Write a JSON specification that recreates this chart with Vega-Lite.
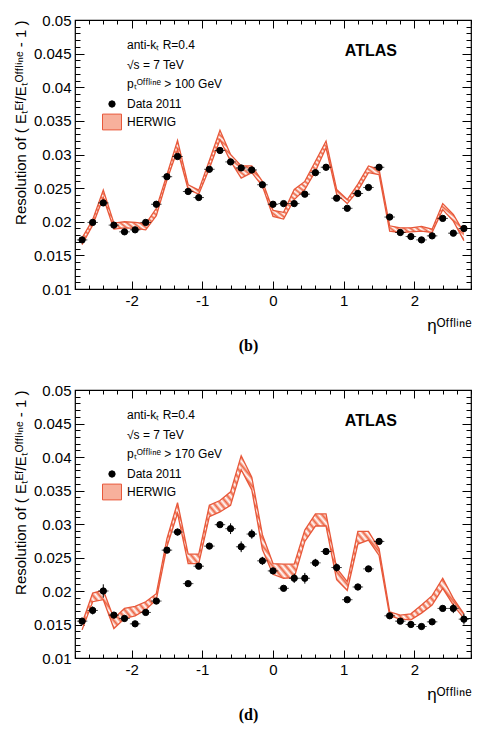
{
  "$schema": "https://vega.github.io/schema/vega-lite/v6.json",
  "padding": {"left": 12, "top": 12, "right": 8, "bottom": 5},
  "autosize": {"type": "pad"},
  "spacing": 28,
  "datasets": {
    "p100": [
      {"eta": -2.7, "res": 0.0173, "err": 0.0003, "lo": 0.0166, "hi": 0.0176},
      {"eta": -2.55, "res": 0.0199, "err": 0.0003, "lo": 0.0195, "hi": 0.0203},
      {"eta": -2.4, "res": 0.0228, "err": 0.0003, "lo": 0.0236, "hi": 0.0247},
      {"eta": -2.25, "res": 0.0195, "err": 0.0003, "lo": 0.0189, "hi": 0.0198},
      {"eta": -2.1, "res": 0.0185, "err": 0.0003, "lo": 0.0191, "hi": 0.0200},
      {"eta": -1.95, "res": 0.0188, "err": 0.0003, "lo": 0.0190, "hi": 0.0199},
      {"eta": -1.8, "res": 0.0199, "err": 0.0003, "lo": 0.0188, "hi": 0.0197},
      {"eta": -1.65, "res": 0.0226, "err": 0.0003, "lo": 0.0209, "hi": 0.0220},
      {"eta": -1.5, "res": 0.0267, "err": 0.0003, "lo": 0.0262, "hi": 0.0270},
      {"eta": -1.35, "res": 0.0297, "err": 0.0003, "lo": 0.0307, "hi": 0.0321},
      {"eta": -1.2, "res": 0.0245, "err": 0.0003, "lo": 0.0248, "hi": 0.0255},
      {"eta": -1.05, "res": 0.0236, "err": 0.0003, "lo": 0.0241, "hi": 0.0247},
      {"eta": -0.9, "res": 0.0278, "err": 0.0003, "lo": 0.0279, "hi": 0.0291},
      {"eta": -0.75, "res": 0.0306, "err": 0.0003, "lo": 0.0322, "hi": 0.0336},
      {"eta": -0.6, "res": 0.0289, "err": 0.0003, "lo": 0.0290, "hi": 0.0300},
      {"eta": -0.45, "res": 0.0280, "err": 0.0003, "lo": 0.0265, "hi": 0.0283},
      {"eta": -0.3, "res": 0.0277, "err": 0.0003, "lo": 0.0273, "hi": 0.0283},
      {"eta": -0.15, "res": 0.0255, "err": 0.0003, "lo": 0.0253, "hi": 0.0260},
      {"eta": 0, "res": 0.0226, "err": 0.0003, "lo": 0.0208, "hi": 0.0217},
      {"eta": 0.15, "res": 0.0227, "err": 0.0003, "lo": 0.0204, "hi": 0.0214},
      {"eta": 0.3, "res": 0.0227, "err": 0.0003, "lo": 0.0233, "hi": 0.0248},
      {"eta": 0.45, "res": 0.0241, "err": 0.0003, "lo": 0.0248, "hi": 0.0260},
      {"eta": 0.6, "res": 0.0273, "err": 0.0003, "lo": 0.0275, "hi": 0.0290},
      {"eta": 0.75, "res": 0.0281, "err": 0.0003, "lo": 0.0310, "hi": 0.0320},
      {"eta": 0.9, "res": 0.0235, "err": 0.0003, "lo": 0.0241, "hi": 0.0248},
      {"eta": 1.05, "res": 0.0220, "err": 0.0003, "lo": 0.0227, "hi": 0.0233},
      {"eta": 1.2, "res": 0.0242, "err": 0.0003, "lo": 0.0246, "hi": 0.0256},
      {"eta": 1.35, "res": 0.0251, "err": 0.0003, "lo": 0.0273, "hi": 0.0283},
      {"eta": 1.5, "res": 0.0281, "err": 0.0003, "lo": 0.0270, "hi": 0.0278},
      {"eta": 1.65, "res": 0.0207, "err": 0.0003, "lo": 0.0186, "hi": 0.0194},
      {"eta": 1.8, "res": 0.0184, "err": 0.0003, "lo": 0.0184, "hi": 0.0191},
      {"eta": 1.95, "res": 0.0178, "err": 0.0003, "lo": 0.0185, "hi": 0.0191},
      {"eta": 2.1, "res": 0.0173, "err": 0.0003, "lo": 0.0186, "hi": 0.0193},
      {"eta": 2.25, "res": 0.0179, "err": 0.0003, "lo": 0.0184, "hi": 0.0189},
      {"eta": 2.4, "res": 0.0205, "err": 0.0003, "lo": 0.0218, "hi": 0.0227},
      {"eta": 2.55, "res": 0.0183, "err": 0.0003, "lo": 0.0201, "hi": 0.0211},
      {"eta": 2.7, "res": 0.0190, "err": 0.0003, "lo": 0.0172, "hi": 0.0184}
    ],
    "p170": [
      {"eta": -2.7, "res": 0.0155, "err": 0.0005, "lo": 0.0142, "hi": 0.0152},
      {"eta": -2.55, "res": 0.0171, "err": 0.0006, "lo": 0.0184, "hi": 0.0197},
      {"eta": -2.4, "res": 0.0200, "err": 0.0010, "lo": 0.0187, "hi": 0.0201},
      {"eta": -2.25, "res": 0.0164, "err": 0.0004, "lo": 0.0144, "hi": 0.0159},
      {"eta": -2.1, "res": 0.0159, "err": 0.0004, "lo": 0.0159, "hi": 0.0174},
      {"eta": -1.95, "res": 0.0151, "err": 0.0003, "lo": 0.0163, "hi": 0.0177},
      {"eta": -1.8, "res": 0.0168, "err": 0.0003, "lo": 0.0172, "hi": 0.0184},
      {"eta": -1.65, "res": 0.0185, "err": 0.0003, "lo": 0.0187, "hi": 0.0196},
      {"eta": -1.5, "res": 0.0261, "err": 0.0004, "lo": 0.0266, "hi": 0.0278},
      {"eta": -1.35, "res": 0.0288, "err": 0.0005, "lo": 0.0316, "hi": 0.0332},
      {"eta": -1.2, "res": 0.0211, "err": 0.0003, "lo": 0.0241, "hi": 0.0255},
      {"eta": -1.05, "res": 0.0237, "err": 0.0004, "lo": 0.0241, "hi": 0.0255},
      {"eta": -0.9, "res": 0.0267, "err": 0.0004, "lo": 0.0311, "hi": 0.0328},
      {"eta": -0.75, "res": 0.0299, "err": 0.0004, "lo": 0.0318, "hi": 0.0335},
      {"eta": -0.6, "res": 0.0293, "err": 0.0008, "lo": 0.0328, "hi": 0.0348},
      {"eta": -0.45, "res": 0.0266, "err": 0.0008, "lo": 0.0381, "hi": 0.0402},
      {"eta": -0.3, "res": 0.0285, "err": 0.0007, "lo": 0.0351, "hi": 0.0370},
      {"eta": -0.15, "res": 0.0245, "err": 0.0006, "lo": 0.0262, "hi": 0.0284},
      {"eta": 0, "res": 0.0230, "err": 0.0004, "lo": 0.0225, "hi": 0.0241},
      {"eta": 0.15, "res": 0.0204, "err": 0.0004, "lo": 0.0219, "hi": 0.0240},
      {"eta": 0.3, "res": 0.0219, "err": 0.0007, "lo": 0.0220, "hi": 0.0240},
      {"eta": 0.45, "res": 0.0219, "err": 0.0008, "lo": 0.0274, "hi": 0.0291},
      {"eta": 0.6, "res": 0.0242, "err": 0.0006, "lo": 0.0297, "hi": 0.0315},
      {"eta": 0.75, "res": 0.0259, "err": 0.0005, "lo": 0.0297, "hi": 0.0315},
      {"eta": 0.9, "res": 0.0235, "err": 0.0006, "lo": 0.0217, "hi": 0.0234},
      {"eta": 1.05, "res": 0.0187, "err": 0.0003, "lo": 0.0201, "hi": 0.0214},
      {"eta": 1.2, "res": 0.0206, "err": 0.0004, "lo": 0.0270, "hi": 0.0289},
      {"eta": 1.35, "res": 0.0233, "err": 0.0004, "lo": 0.0276, "hi": 0.0289},
      {"eta": 1.5, "res": 0.0274, "err": 0.0003, "lo": 0.0253, "hi": 0.0263},
      {"eta": 1.65, "res": 0.0163, "err": 0.0003, "lo": 0.0163, "hi": 0.0169},
      {"eta": 1.8, "res": 0.0155, "err": 0.0003, "lo": 0.0158, "hi": 0.0164},
      {"eta": 1.95, "res": 0.0150, "err": 0.0003, "lo": 0.0157, "hi": 0.0166},
      {"eta": 2.1, "res": 0.0147, "err": 0.0003, "lo": 0.0167, "hi": 0.0179},
      {"eta": 2.25, "res": 0.0154, "err": 0.0003, "lo": 0.0179, "hi": 0.0193},
      {"eta": 2.4, "res": 0.0174, "err": 0.0004, "lo": 0.0204, "hi": 0.0219},
      {"eta": 2.55, "res": 0.0174, "err": 0.0007, "lo": 0.0179, "hi": 0.0189},
      {"eta": 2.7, "res": 0.0158, "err": 0.0008, "lo": 0.0159, "hi": 0.0166}
    ]
  },
  "resolve": {"scale": {"shape": "independent", "fill": "independent", "stroke": "independent"}, "legend": {"shape": "independent", "fill": "independent", "stroke": "independent"}},
  "vconcat": [
    {
      "title": {"text": "(b)", "orient": "bottom", "anchor": "middle", "font": "Liberation Serif", "fontSize": 16, "fontWeight": "bold", "offset": 4, "dx": 6, "color": "black"},
      "resolve": {"scale": {"shape": "independent", "fill": "independent", "stroke": "independent"}, "legend": {"shape": "independent", "fill": "independent", "stroke": "independent"}},
      "vconcat": [
        {
          "width": 396,
          "height": 269,
          "data": {"name": "p100"},
          "title": {"text": "ATLAS", "anchor": "end", "frame": "group", "orient": "top", "offset": -46, "dx": -74, "fontSize": 16, "fontWeight": "bold", "font": "Liberation Sans", "color": "black"},
          "resolve": {"axis": {"x": "independent", "y": "independent"}},
          "layer": [
            {
              "mark": {"type": "area"},
              "encoding": {
                "x": {"field": "eta", "type": "quantitative", "scale": {"domain": [-2.8, 2.8], "nice": false, "zero": false},
                  "axis": {"orient": "bottom", "values": [-2, -1, 0, 1, 2], "labelExpr": "'' + datum.value", "tickSize": -8, "labelPadding": 12, "title": "ηᴼᶠᶠˡⁱⁿᵉ", "titleAnchor": "end", "titleFontSize": 17, "titlePadding": 9}},
                "y": {"field": "lo", "type": "quantitative", "scale": {"domain": [0.01, 0.05], "nice": false, "zero": false},
                  "axis": {"orient": "left", "values": [0.01, 0.015, 0.02, 0.025, 0.03, 0.035, 0.04, 0.045, 0.05], "format": ".3~f", "tickSize": -9, "labelPadding": 13, "title": "Resolution of ( Eₜᴱᶠ/Eₜᴼᶠᶠˡⁱⁿᵉ - 1 )", "titleAnchor": "end", "titleFontSize": 15, "titlePadding": 5}},
                "y2": {"field": "hi"}
              }
            },
            {
              "mark": {"type": "line", "color": "#e8583a", "strokeWidth": 1.3},
              "encoding": {
                "x": {"field": "eta", "type": "quantitative", "axis": {"orient": "bottom", "values": [-2.8, -2.6, -2.4, -2.2, -2, -1.8, -1.6, -1.4, -1.2, -1, -0.8, -0.6, -0.4, -0.2, 0, 0.2, 0.4, 0.6, 0.8, 1, 1.2, 1.4, 1.6, 1.8, 2, 2.2, 2.4, 2.6, 2.8], "tickSize": -4, "labels": false, "title": null}},
                "y": {"field": "hi", "type": "quantitative", "axis": {"orient": "left", "values": [0.01, 0.011, 0.012, 0.013, 0.014, 0.015, 0.016, 0.017, 0.018, 0.019, 0.02, 0.021, 0.022, 0.023, 0.024, 0.025, 0.026, 0.027, 0.028, 0.029, 0.03, 0.031, 0.032, 0.033, 0.034, 0.035, 0.036, 0.037, 0.038, 0.039, 0.04, 0.041, 0.042, 0.043, 0.044, 0.045, 0.046, 0.047, 0.048, 0.049, 0.05], "tickSize": -5, "labels": false, "title": null}}
              }
            },
            {
              "mark": {"type": "line", "color": "#e8583a", "strokeWidth": 1.3},
              "encoding": {
                "x": {"field": "eta", "type": "quantitative", "axis": {"orient": "top", "values": [-2, -1, 0, 1, 2], "tickSize": -8, "labels": false, "title": null}},
                "y": {"field": "lo", "type": "quantitative", "axis": {"orient": "right", "values": [0.01, 0.015, 0.02, 0.025, 0.03, 0.035, 0.04, 0.045, 0.05], "tickSize": -9, "labels": false, "title": null}}
              }
            },
            {
              "mark": {"type": "tick", "orient": "horizontal", "size": 10.5, "thickness": 1, "color": "black"},
              "encoding": {
                "x": {"field": "eta", "type": "quantitative", "axis": {"orient": "top", "values": [-2.8, -2.6, -2.4, -2.2, -2, -1.8, -1.6, -1.4, -1.2, -1, -0.8, -0.6, -0.4, -0.2, 0, 0.2, 0.4, 0.6, 0.8, 1, 1.2, 1.4, 1.6, 1.8, 2, 2.2, 2.4, 2.6, 2.8], "tickSize": -4, "labels": false, "title": null}},
                "y": {"field": "res", "type": "quantitative", "axis": {"orient": "right", "values": [0.01, 0.011, 0.012, 0.013, 0.014, 0.015, 0.016, 0.017, 0.018, 0.019, 0.02, 0.021, 0.022, 0.023, 0.024, 0.025, 0.026, 0.027, 0.028, 0.029, 0.03, 0.031, 0.032, 0.033, 0.034, 0.035, 0.036, 0.037, 0.038, 0.039, 0.04, 0.041, 0.042, 0.043, 0.044, 0.045, 0.046, 0.047, 0.048, 0.049, 0.05], "tickSize": -5, "labels": false, "title": null}}
              }
            },
            {
              "mark": {"type": "errorbar", "ticks": false, "color": "black"},
              "encoding": {
                "x": {"field": "eta", "type": "quantitative", "axis": null},
                "y": {"field": "res", "type": "quantitative", "axis": null},
                "yError": {"field": "err"}
              }
            },
            {
              "mark": {"type": "point", "filled": true, "size": 40, "strokeWidth": 1, "opacity": 1},
              "encoding": {
                "x": {"field": "eta", "type": "quantitative", "axis": null},
                "y": {"field": "res", "type": "quantitative", "axis": null},
                "fill": {"datum": "Data 2011", "type": "nominal",
                  "scale": {"domain": ["Data 2011", "HERWIG"], "range": ["black", "#f7b09c"]}},
                "stroke": {"datum": "Data 2011", "type": "nominal",
                  "scale": {"domain": ["Data 2011", "HERWIG"], "range": ["black", "#e8583a"]}},
                "shape": {"datum": "Data 2011", "type": "nominal",
                  "scale": {"domain": ["Data 2011", "HERWIG"], "range": ["circle", "M-3,-2.5H3V2.5H-3Z"]},
                  "legend": {"orient": "none", "legendX": 52, "legendY": 20, "padding": 0,
                    "title": ["anti-k\u209c  R=0.4", "\u221as = 7 TeV", "p\u209c\u1d3c\u1da0\u1da0\u02e1\u2071\u207f\u1d49 > 100 GeV"],
                    "titleFontSize": 12, "titleFontWeight": "normal", "titleLineHeight": 19.5, "titlePadding": 7, "titleFont": "Liberation Sans", "titleColor": "black",
                    "labelFontSize": 12, "labelFont": "Liberation Sans", "labelColor": "black", "labelOffset": 9, "symbolOffset": -21, "rowPadding": 2, "symbolSize": 40, "symbolStrokeWidth": 1}
                }
              }
            }
          ]
        }
      ]
    },
    {
      "title": {"text": "(d)", "orient": "bottom", "anchor": "middle", "font": "Liberation Serif", "fontSize": 16, "fontWeight": "bold", "offset": 4, "dx": 6, "color": "black"},
      "resolve": {"scale": {"shape": "independent", "fill": "independent", "stroke": "independent"}, "legend": {"shape": "independent", "fill": "independent", "stroke": "independent"}},
      "vconcat": [
        {
          "width": 396,
          "height": 268,
          "data": {"name": "p170"},
          "title": {"text": "ATLAS", "anchor": "end", "frame": "group", "orient": "top", "offset": -46, "dx": -74, "fontSize": 16, "fontWeight": "bold", "font": "Liberation Sans", "color": "black"},
          "resolve": {"axis": {"x": "independent", "y": "independent"}},
          "layer": [
            {
              "mark": {"type": "area"},
              "encoding": {
                "x": {"field": "eta", "type": "quantitative", "scale": {"domain": [-2.8, 2.8], "nice": false, "zero": false},
                  "axis": {"orient": "bottom", "values": [-2, -1, 0, 1, 2], "labelExpr": "'' + datum.value", "tickSize": -8, "labelPadding": 12, "title": "ηᴼᶠᶠˡⁱⁿᵉ", "titleAnchor": "end", "titleFontSize": 17, "titlePadding": 9}},
                "y": {"field": "lo", "type": "quantitative", "scale": {"domain": [0.01, 0.05], "nice": false, "zero": false},
                  "axis": {"orient": "left", "values": [0.01, 0.015, 0.02, 0.025, 0.03, 0.035, 0.04, 0.045, 0.05], "format": ".3~f", "tickSize": -9, "labelPadding": 13, "title": "Resolution of ( Eₜᴱᶠ/Eₜᴼᶠᶠˡⁱⁿᵉ - 1 )", "titleAnchor": "end", "titleFontSize": 15, "titlePadding": 5}},
                "y2": {"field": "hi"}
              }
            },
            {
              "mark": {"type": "line", "color": "#e8583a", "strokeWidth": 1.3},
              "encoding": {
                "x": {"field": "eta", "type": "quantitative", "axis": {"orient": "bottom", "values": [-2.8, -2.6, -2.4, -2.2, -2, -1.8, -1.6, -1.4, -1.2, -1, -0.8, -0.6, -0.4, -0.2, 0, 0.2, 0.4, 0.6, 0.8, 1, 1.2, 1.4, 1.6, 1.8, 2, 2.2, 2.4, 2.6, 2.8], "tickSize": -4, "labels": false, "title": null}},
                "y": {"field": "hi", "type": "quantitative", "axis": {"orient": "left", "values": [0.01, 0.011, 0.012, 0.013, 0.014, 0.015, 0.016, 0.017, 0.018, 0.019, 0.02, 0.021, 0.022, 0.023, 0.024, 0.025, 0.026, 0.027, 0.028, 0.029, 0.03, 0.031, 0.032, 0.033, 0.034, 0.035, 0.036, 0.037, 0.038, 0.039, 0.04, 0.041, 0.042, 0.043, 0.044, 0.045, 0.046, 0.047, 0.048, 0.049, 0.05], "tickSize": -5, "labels": false, "title": null}}
              }
            },
            {
              "mark": {"type": "line", "color": "#e8583a", "strokeWidth": 1.3},
              "encoding": {
                "x": {"field": "eta", "type": "quantitative", "axis": {"orient": "top", "values": [-2, -1, 0, 1, 2], "tickSize": -8, "labels": false, "title": null}},
                "y": {"field": "lo", "type": "quantitative", "axis": {"orient": "right", "values": [0.01, 0.015, 0.02, 0.025, 0.03, 0.035, 0.04, 0.045, 0.05], "tickSize": -9, "labels": false, "title": null}}
              }
            },
            {
              "mark": {"type": "tick", "orient": "horizontal", "size": 10.5, "thickness": 1, "color": "black"},
              "encoding": {
                "x": {"field": "eta", "type": "quantitative", "axis": {"orient": "top", "values": [-2.8, -2.6, -2.4, -2.2, -2, -1.8, -1.6, -1.4, -1.2, -1, -0.8, -0.6, -0.4, -0.2, 0, 0.2, 0.4, 0.6, 0.8, 1, 1.2, 1.4, 1.6, 1.8, 2, 2.2, 2.4, 2.6, 2.8], "tickSize": -4, "labels": false, "title": null}},
                "y": {"field": "res", "type": "quantitative", "axis": {"orient": "right", "values": [0.01, 0.011, 0.012, 0.013, 0.014, 0.015, 0.016, 0.017, 0.018, 0.019, 0.02, 0.021, 0.022, 0.023, 0.024, 0.025, 0.026, 0.027, 0.028, 0.029, 0.03, 0.031, 0.032, 0.033, 0.034, 0.035, 0.036, 0.037, 0.038, 0.039, 0.04, 0.041, 0.042, 0.043, 0.044, 0.045, 0.046, 0.047, 0.048, 0.049, 0.05], "tickSize": -5, "labels": false, "title": null}}
              }
            },
            {
              "mark": {"type": "errorbar", "ticks": false, "color": "black"},
              "encoding": {
                "x": {"field": "eta", "type": "quantitative", "axis": null},
                "y": {"field": "res", "type": "quantitative", "axis": null},
                "yError": {"field": "err"}
              }
            },
            {
              "mark": {"type": "point", "filled": true, "size": 40, "strokeWidth": 1, "opacity": 1},
              "encoding": {
                "x": {"field": "eta", "type": "quantitative", "axis": null},
                "y": {"field": "res", "type": "quantitative", "axis": null},
                "fill": {"datum": "Data 2011", "type": "nominal",
                  "scale": {"domain": ["Data 2011", "HERWIG"], "range": ["black", "#f7b09c"]}},
                "stroke": {"datum": "Data 2011", "type": "nominal",
                  "scale": {"domain": ["Data 2011", "HERWIG"], "range": ["black", "#e8583a"]}},
                "shape": {"datum": "Data 2011", "type": "nominal",
                  "scale": {"domain": ["Data 2011", "HERWIG"], "range": ["circle", "M-3,-2.5H3V2.5H-3Z"]},
                  "legend": {"orient": "none", "legendX": 52, "legendY": 20, "padding": 0,
                    "title": ["anti-k\u209c  R=0.4", "\u221as = 7 TeV", "p\u209c\u1d3c\u1da0\u1da0\u02e1\u2071\u207f\u1d49 > 170 GeV"],
                    "titleFontSize": 12, "titleFontWeight": "normal", "titleLineHeight": 19.5, "titlePadding": 7, "titleFont": "Liberation Sans", "titleColor": "black",
                    "labelFontSize": 12, "labelFont": "Liberation Sans", "labelColor": "black", "labelOffset": 9, "symbolOffset": -21, "rowPadding": 2, "symbolSize": 40, "symbolStrokeWidth": 1}
                }
              }
            }
          ]
        }
      ]
    }
  ],
  "config": {
    "font": "Liberation Sans",
    "view": {"stroke": "black", "strokeWidth": 1.2},
    "axis": {"domain": false, "grid": false, "tickColor": "black", "tickWidth": 1, "labelColor": "black", "labelFont": "Liberation Sans", "labelFontSize": 15, "titleFont": "Liberation Sans", "titleFontWeight": "normal", "titleColor": "black"},
    "area": {"fillOpacity": 1, "fill": {"gradient": "linear", "x1": 0, "y1": 1, "x2": 1.206, "y2": 0.542, "stops": [
      {"offset": 0, "color": "#e64"}, {"offset": 0.00625, "color": "#fff"}, {"offset": 0.0125, "color": "#e64"}, {"offset": 0.01875, "color": "#fff"}, {"offset": 0.025, "color": "#e64"}, {"offset": 0.03125, "color": "#fff"}, {"offset": 0.0375, "color": "#e64"}, {"offset": 0.04375, "color": "#fff"}, {"offset": 0.05, "color": "#e64"}, {"offset": 0.05625, "color": "#fff"}, {"offset": 0.0625, "color": "#e64"}, {"offset": 0.06875, "color": "#fff"}, {"offset": 0.075, "color": "#e64"}, {"offset": 0.08125, "color": "#fff"}, {"offset": 0.0875, "color": "#e64"}, {"offset": 0.09375, "color": "#fff"},
      {"offset": 0.1, "color": "#e64"}, {"offset": 0.10625, "color": "#fff"}, {"offset": 0.1125, "color": "#e64"}, {"offset": 0.11875, "color": "#fff"}, {"offset": 0.125, "color": "#e64"}, {"offset": 0.13125, "color": "#fff"}, {"offset": 0.1375, "color": "#e64"}, {"offset": 0.14375, "color": "#fff"}, {"offset": 0.15, "color": "#e64"}, {"offset": 0.15625, "color": "#fff"}, {"offset": 0.1625, "color": "#e64"}, {"offset": 0.16875, "color": "#fff"}, {"offset": 0.175, "color": "#e64"}, {"offset": 0.18125, "color": "#fff"}, {"offset": 0.1875, "color": "#e64"}, {"offset": 0.19375, "color": "#fff"},
      {"offset": 0.2, "color": "#e64"}, {"offset": 0.20625, "color": "#fff"}, {"offset": 0.2125, "color": "#e64"}, {"offset": 0.21875, "color": "#fff"}, {"offset": 0.225, "color": "#e64"}, {"offset": 0.23125, "color": "#fff"}, {"offset": 0.2375, "color": "#e64"}, {"offset": 0.24375, "color": "#fff"}, {"offset": 0.25, "color": "#e64"}, {"offset": 0.25625, "color": "#fff"}, {"offset": 0.2625, "color": "#e64"}, {"offset": 0.26875, "color": "#fff"}, {"offset": 0.275, "color": "#e64"}, {"offset": 0.28125, "color": "#fff"}, {"offset": 0.2875, "color": "#e64"}, {"offset": 0.29375, "color": "#fff"},
      {"offset": 0.3, "color": "#e64"}, {"offset": 0.30625, "color": "#fff"}, {"offset": 0.3125, "color": "#e64"}, {"offset": 0.31875, "color": "#fff"}, {"offset": 0.325, "color": "#e64"}, {"offset": 0.33125, "color": "#fff"}, {"offset": 0.3375, "color": "#e64"}, {"offset": 0.34375, "color": "#fff"}, {"offset": 0.35, "color": "#e64"}, {"offset": 0.35625, "color": "#fff"}, {"offset": 0.3625, "color": "#e64"}, {"offset": 0.36875, "color": "#fff"}, {"offset": 0.375, "color": "#e64"}, {"offset": 0.38125, "color": "#fff"}, {"offset": 0.3875, "color": "#e64"}, {"offset": 0.39375, "color": "#fff"},
      {"offset": 0.4, "color": "#e64"}, {"offset": 0.40625, "color": "#fff"}, {"offset": 0.4125, "color": "#e64"}, {"offset": 0.41875, "color": "#fff"}, {"offset": 0.425, "color": "#e64"}, {"offset": 0.43125, "color": "#fff"}, {"offset": 0.4375, "color": "#e64"}, {"offset": 0.44375, "color": "#fff"}, {"offset": 0.45, "color": "#e64"}, {"offset": 0.45625, "color": "#fff"}, {"offset": 0.4625, "color": "#e64"}, {"offset": 0.46875, "color": "#fff"}, {"offset": 0.475, "color": "#e64"}, {"offset": 0.48125, "color": "#fff"}, {"offset": 0.4875, "color": "#e64"}, {"offset": 0.49375, "color": "#fff"},
      {"offset": 0.5, "color": "#e64"}, {"offset": 0.50625, "color": "#fff"}, {"offset": 0.5125, "color": "#e64"}, {"offset": 0.51875, "color": "#fff"}, {"offset": 0.525, "color": "#e64"}, {"offset": 0.53125, "color": "#fff"}, {"offset": 0.5375, "color": "#e64"}, {"offset": 0.54375, "color": "#fff"}, {"offset": 0.55, "color": "#e64"}, {"offset": 0.55625, "color": "#fff"}, {"offset": 0.5625, "color": "#e64"}, {"offset": 0.56875, "color": "#fff"}, {"offset": 0.575, "color": "#e64"}, {"offset": 0.58125, "color": "#fff"}, {"offset": 0.5875, "color": "#e64"}, {"offset": 0.59375, "color": "#fff"},
      {"offset": 0.6, "color": "#e64"}, {"offset": 0.60625, "color": "#fff"}, {"offset": 0.6125, "color": "#e64"}, {"offset": 0.61875, "color": "#fff"}, {"offset": 0.625, "color": "#e64"}, {"offset": 0.63125, "color": "#fff"}, {"offset": 0.6375, "color": "#e64"}, {"offset": 0.64375, "color": "#fff"}, {"offset": 0.65, "color": "#e64"}, {"offset": 0.65625, "color": "#fff"}, {"offset": 0.6625, "color": "#e64"}, {"offset": 0.66875, "color": "#fff"}, {"offset": 0.675, "color": "#e64"}, {"offset": 0.68125, "color": "#fff"}, {"offset": 0.6875, "color": "#e64"}, {"offset": 0.69375, "color": "#fff"},
      {"offset": 0.7, "color": "#e64"}, {"offset": 0.70625, "color": "#fff"}, {"offset": 0.7125, "color": "#e64"}, {"offset": 0.71875, "color": "#fff"}, {"offset": 0.725, "color": "#e64"}, {"offset": 0.73125, "color": "#fff"}, {"offset": 0.7375, "color": "#e64"}, {"offset": 0.74375, "color": "#fff"}, {"offset": 0.75, "color": "#e64"}, {"offset": 0.75625, "color": "#fff"}, {"offset": 0.7625, "color": "#e64"}, {"offset": 0.76875, "color": "#fff"}, {"offset": 0.775, "color": "#e64"}, {"offset": 0.78125, "color": "#fff"}, {"offset": 0.7875, "color": "#e64"}, {"offset": 0.79375, "color": "#fff"},
      {"offset": 0.8, "color": "#e64"}, {"offset": 0.80625, "color": "#fff"}, {"offset": 0.8125, "color": "#e64"}, {"offset": 0.81875, "color": "#fff"}, {"offset": 0.825, "color": "#e64"}, {"offset": 0.83125, "color": "#fff"}, {"offset": 0.8375, "color": "#e64"}, {"offset": 0.84375, "color": "#fff"}, {"offset": 0.85, "color": "#e64"}, {"offset": 0.85625, "color": "#fff"}, {"offset": 0.8625, "color": "#e64"}, {"offset": 0.86875, "color": "#fff"}, {"offset": 0.875, "color": "#e64"}, {"offset": 0.88125, "color": "#fff"}, {"offset": 0.8875, "color": "#e64"}, {"offset": 0.89375, "color": "#fff"},
      {"offset": 0.9, "color": "#e64"}, {"offset": 0.90625, "color": "#fff"}, {"offset": 0.9125, "color": "#e64"}, {"offset": 0.91875, "color": "#fff"}, {"offset": 0.925, "color": "#e64"}, {"offset": 0.93125, "color": "#fff"}, {"offset": 0.9375, "color": "#e64"}, {"offset": 0.94375, "color": "#fff"}, {"offset": 0.95, "color": "#e64"}, {"offset": 0.95625, "color": "#fff"}, {"offset": 0.9625, "color": "#e64"}, {"offset": 0.96875, "color": "#fff"}, {"offset": 0.975, "color": "#e64"}, {"offset": 0.98125, "color": "#fff"}, {"offset": 0.9875, "color": "#e64"}, {"offset": 0.99375, "color": "#fff"},
      {"offset": 1, "color": "#e64"}
    ]}}
  }
}
